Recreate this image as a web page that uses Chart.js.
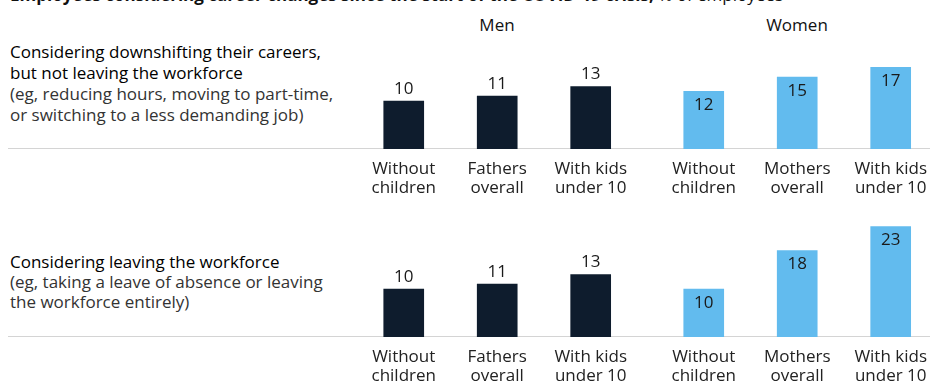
<!DOCTYPE html>
<html>
<head>
<meta charset="utf-8">
<script src="https://cdn.jsdelivr.net/npm/chart.js@4.4.1/dist/chart.umd.min.js"></script>
<style>
  html, body { margin: 0; padding: 0; width: 930px; height: 381px; overflow: hidden; background: #fff; font-family: "Open Sans", sans-serif; }
  .abs { position: absolute; }
  .rule { position: absolute; left: 8px; width: 922px; height: 1px; background: #d4d4d4; }
  .title { left: 10px; top: -17px; font-size: 17px; color: #111; white-space: nowrap; line-height: 24px; }
  .title b { font-weight: 700; }
  .grp { font-size: 17px; color: #111; width: 120px; text-align: center; line-height: 20px; }
  .desc { left: 10px; font-size: 17px; line-height: 21px; white-space: nowrap; }
  .desc .h { color: #000; font-weight: 500; }
  .desc .s { color: #333; }
  canvas { position: absolute; }
</style>
</head>
<body>
<div class="abs title"><b>Employees considering career changes since the start of the COVID-19 crisis,</b> % of employees</div>
<div class="abs grp" style="left:437px; top:15px;">Men</div>
<div class="abs grp" style="left:737px; top:15px;">Women</div>

<div class="abs desc" style="top:41px;">
  <div class="h">Considering downshifting their careers,</div>
  <div class="h">but not leaving the workforce</div>
  <div class="s">(eg, reducing hours, moving to part-time,</div>
  <div class="s">or switching to a less demanding job)</div>
</div>
<div class="abs desc" style="top:252px; line-height:20px;">
  <div class="h">Considering leaving the workforce</div>
  <div class="s">(eg, taking a leave of absence or leaving</div>
  <div class="s">the workforce entirely)</div>
</div>

<div class="rule" style="top:148px;"></div>
<div class="rule" style="top:336px;"></div>

<canvas id="c1" width="281" height="170" style="left:357px; top:29px;"></canvas>
<canvas id="c2" width="281" height="170" style="left:657px; top:29px;"></canvas>
<canvas id="c3" width="281" height="170" style="left:357px; top:217px;"></canvas>
<canvas id="c4" width="281" height="170" style="left:657px; top:217px;"></canvas>

<script>
// ---- data ----
const menCategories = [["Without", "children"], ["Fathers", "overall"], ["With kids", "under 10"]];
const womenCategories = [["Without", "children"], ["Mothers", "overall"], ["With kids", "under 10"]];
const downshiftMen = [10, 11, 13];
const downshiftWomen = [12, 15, 17];
const leaveMen = [10, 11, 13];
const leaveWomen = [10, 18, 23];
const yMax = 25;

// ---- styles ----
const MEN_COLOR = "#0e1c2d";
const WOMEN_COLOR = "#62bbee";
const FONT = "'Open Sans', sans-serif";

const valueLabels = {
  id: "valueLabels",
  afterDatasetsDraw(chart, args, opts) {
    const ctx = chart.ctx;
    const meta = chart.getDatasetMeta(0);
    const data = chart.data.datasets[0].data;
    ctx.save();
    ctx.font = "17px " + FONT;
    ctx.fillStyle = "#1a1a1a";
    ctx.textAlign = "center";
    ctx.textBaseline = "middle";
    meta.data.forEach((bar, i) => {
      const y = opts.inside ? bar.y + 14 : bar.y - 12;
      ctx.fillText(String(data[i]), bar.x, y);
    });
    ctx.restore();
  }
};

function makeChart(id, labels, values, color, inside) {
  return new Chart(document.getElementById(id), {
    type: "bar",
    data: {
      labels: labels,
      datasets: [{ data: values, backgroundColor: color, barThickness: 40, borderWidth: 0 }]
    },
    options: {
      responsive: false,
      animation: false,
      devicePixelRatio: 1,
      layout: { padding: 0 },
      plugins: { legend: { display: false }, tooltip: { enabled: false }, valueLabels: { inside: inside } },
      scales: {
        y: { display: false, min: 0, max: yMax },
        x: {
          grid: { display: false, drawTicks: false },
          border: { display: false },
          ticks: {
            color: "#222",
            padding: 11,
            maxRotation: 0,
            autoSkip: false,
            font: { family: FONT, size: 17, lineHeight: 1.12 }
          },
          afterFit(scale) { scale.height = 50; }
        }
      }
    },
    plugins: [valueLabels]
  });
}

makeChart("c1", menCategories, downshiftMen, MEN_COLOR, false);
makeChart("c2", womenCategories, downshiftWomen, WOMEN_COLOR, true);
makeChart("c3", menCategories, leaveMen, MEN_COLOR, false);
makeChart("c4", womenCategories, leaveWomen, WOMEN_COLOR, true);
</script>
</body>
</html>
